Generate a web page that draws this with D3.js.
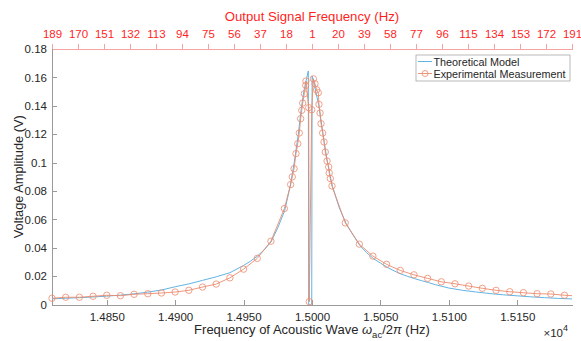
<!DOCTYPE html>
<html>
<head>
<meta charset="utf-8">
<script src="https://cdn.jsdelivr.net/npm/d3@7"></script>
<style>
  html, body { margin: 0; padding: 0; background: #fff; }
  svg { display: block; font-family: "Liberation Sans", Arial, sans-serif; }
  .axis path, .axis line { shape-rendering: crispEdges; }
</style>
</head>
<body>
<div id="chart"></div>
<script>
// theoretical model (blue)
const theoFreq = [14810, 14820, 14830, 14840, 14850, 14860, 14870, 14880, 14890, 14900,
  14910, 14920, 14930, 14940, 14950, 14955, 14960, 14965, 14970, 14975,
  14980, 14984, 14987, 14990, 14992, 14994, 14996, 14997.3, 14997.6, 14999.8,
  15000.1, 15001, 15002, 15003, 15005, 15007, 15009, 15011, 15013, 15015,
  15020, 15025, 15030, 15035, 15040, 15045, 15050, 15055, 15060, 15065,
  15070, 15075, 15080, 15085, 15090, 15095, 15100, 15110, 15120, 15130,
  15140, 15150, 15160, 15170, 15180, 15190];
const theoVolt = [0.0040, 0.0044, 0.0048, 0.0053, 0.0059, 0.0066, 0.0075, 0.0087, 0.0102, 0.0125,
  0.0145, 0.0170, 0.0195, 0.0224, 0.0275, 0.0305, 0.0340, 0.0385, 0.0440, 0.0540,
  0.0660, 0.0830, 0.1000, 0.1200, 0.1370, 0.1500, 0.1590, 0.1645, 0.0, 0.0,
  0.1610, 0.1580, 0.1540, 0.1490, 0.1400, 0.1270, 0.1140, 0.1020, 0.0920, 0.0830,
  0.0680, 0.0570, 0.0490, 0.0415, 0.0365, 0.0322, 0.0292, 0.0262, 0.0237, 0.0215,
  0.0198, 0.0182, 0.0168, 0.0155, 0.0140, 0.0128, 0.0116, 0.0100, 0.0088, 0.0077,
  0.0068, 0.0061, 0.0054, 0.0048, 0.0043, 0.0039];

// experimental measurement (orange circles)
const expFreq = [14810, 14820, 14830, 14840, 14850, 14860, 14870, 14880, 14890, 14900,
  14910, 14920, 14930, 14940, 14950, 14960, 14970, 14979.8, 14984.4, 14985.6,
  14986.9, 14988.3, 14989.6, 14990.7, 14991.7, 14992.5, 14993.2, 14994.4, 14995.4, 14995.6,
  14997.6, 14998.0, 14999.8, 15001.0, 15002.2, 15003.4, 15004.6, 15005.1, 15005.9, 15006.6,
  15007.8, 15008.8, 15009.7, 15011.0, 15012.2, 15012.6, 15013.4, 15014.6, 15024.3, 15034.6,
  15044.5, 15054.5, 15064.5, 15074.5, 15084.5, 15094.5, 15104.5, 15114.5, 15124.5, 15134.5,
  15144.5, 15154.5, 15164.5, 15174.5, 15184.5, 15194.5];
const expVolt = [0.0044, 0.0051, 0.0051, 0.0058, 0.0065, 0.0062, 0.0072, 0.0076, 0.0081, 0.0088,
  0.0100, 0.0123, 0.0144, 0.0188, 0.0249, 0.0325, 0.0446, 0.0676, 0.0845, 0.0899,
  0.0957, 0.1063, 0.1133, 0.1208, 0.1309, 0.1368, 0.1419, 0.1485, 0.1543, 0.1574,
  0.1387, 0.0020, 0.1372, 0.1590, 0.1555, 0.1513, 0.1492, 0.1410, 0.1349, 0.1274,
  0.1208, 0.1145, 0.1074, 0.1011, 0.0969, 0.0927, 0.0887, 0.0835, 0.0575, 0.0425,
  0.0341, 0.0283, 0.0240, 0.0209, 0.0184, 0.0160, 0.0146, 0.0130, 0.0114, 0.0100,
  0.0090, 0.0083, 0.0076, 0.0074, 0.0065, 0.0060];

// axes
const bottomTicks = [14850, 14900, 14950, 15000, 15050, 15100, 15150];
const leftTicks = [0, 0.02, 0.04, 0.06, 0.08, 0.1, 0.12, 0.14, 0.16, 0.18];
const topTickFreqs = [14810, 14829, 14848, 14867, 14886, 14905, 14924, 14943, 14962, 14981, 15000,
  15019, 15038, 15057, 15076, 15095, 15114, 15133, 15152, 15171, 15190];
const topTickLabels = ['189', '170', '151', '132', '113', '94', '75', '56', '37', '18', '1',
  '20', '39', '58', '77', '96', '115', '134', '153', '172', '191'];

const theoData = theoFreq.map((f, i) => ({ f: f, v: theoVolt[i] }));
const expData = expFreq.map((f, i) => ({ f: f, v: expVolt[i] }));

const W = 581, H = 341;
const margin = { top: 49, right: 9, bottom: 36.5, left: 52 };
const width = W - margin.left - margin.right;
const height = H - margin.top - margin.bottom;

const blue = '#62b4e2';
const orange = '#ec8a6c';
const red = '#ff1f1f';

const svg = d3.select('#chart').append('svg')
  .attr('width', W)
  .attr('height', H);

const g = svg.append('g')
  .attr('transform', `translate(${margin.left},${margin.top})`);

const x = d3.scaleLinear().domain([14810, 15190]).range([0, width]);
const y = d3.scaleLinear().domain([0, 0.18]).range([height, 0]);

g.append('clipPath').attr('id', 'clip')
  .append('rect').attr('width', width).attr('height', height);

// bottom axis
const xAxis = g.append('g')
  .attr('class', 'axis axis--x')
  .attr('transform', `translate(0,${height})`)
  .call(d3.axisBottom(x).tickValues(bottomTicks).tickSizeInner(-5).tickSizeOuter(0)
    .tickPadding(8).tickFormat(d => (d / 1e4).toFixed(4)));
xAxis.select('.domain').attr('stroke', '#9a9a9a');
xAxis.selectAll('line').attr('stroke', '#9a9a9a');
xAxis.selectAll('text').attr('fill', '#262626').style('font-size', '11.5px');

// left axis
const yAxis = g.append('g')
  .attr('class', 'axis axis--y')
  .call(d3.axisLeft(y).tickValues(leftTicks).tickSizeInner(-5).tickSizeOuter(0)
    .tickPadding(5).tickFormat(d => String(+d.toFixed(2))));
yAxis.select('.domain').attr('stroke', '#9a9a9a');
yAxis.selectAll('line').attr('stroke', '#9a9a9a');
yAxis.selectAll('text').attr('fill', '#262626').style('font-size', '11.5px');

// top axis (output signal frequency)
const topAxis = g.append('g')
  .attr('class', 'axis axis--top')
  .call(d3.axisTop(x).tickValues(topTickFreqs).tickSizeInner(5).tickSizeOuter(0)
    .tickPadding(6).tickFormat((d, i) => topTickLabels[i]));
topAxis.select('.domain').attr('stroke', '#f5a3a3');
topAxis.selectAll('line').attr('stroke', '#f5a3a3');
topAxis.selectAll('text').attr('fill', red).style('font-size', '11.5px');

// lines
const line = d3.line()
  .x(d => x(d.f))
  .y(d => y(d.v));

const plot = g.append('g').attr('clip-path', 'url(#clip)');

plot.append('path')
  .datum(theoData)
  .attr('class', 'line theo')
  .attr('fill', 'none')
  .attr('stroke', blue)
  .attr('stroke-width', 1)
  .attr('d', line);

plot.append('path')
  .datum(expData)
  .attr('class', 'line exp')
  .attr('fill', 'none')
  .attr('stroke', orange)
  .attr('stroke-width', 0.9)
  .attr('d', line);

g.append('g').selectAll('circle')
  .data(expData.filter(d => d.f >= 14810 && d.f <= 15190))
  .join('circle')
  .attr('cx', d => x(d.f))
  .attr('cy', d => y(d.v))
  .attr('r', 3.2)
  .attr('fill', 'none')
  .attr('stroke', orange)
  .attr('stroke-width', 0.8);

// titles
svg.append('text')
  .attr('x', margin.left + width / 2)
  .attr('y', 21)
  .attr('text-anchor', 'middle')
  .attr('fill', red)
  .style('font-size', '13.2px')
  .text('Output Signal Frequency (Hz)');

svg.append('text')
  .attr('transform', `translate(23,${margin.top + height / 2}) rotate(-90)`)
  .attr('text-anchor', 'middle')
  .attr('fill', '#262626')
  .style('font-size', '12.8px')
  .text('Voltage Amplitude (V)');

const xl = svg.append('text')
  .attr('x', margin.left + width / 2)
  .attr('y', 334)
  .attr('text-anchor', 'middle')
  .attr('fill', '#262626')
  .style('font-size', '13px');
xl.append('tspan').text('Frequency of Acoustic Wave ');
xl.append('tspan').style('font-style', 'italic').text('ω');
xl.append('tspan').attr('dy', 4).style('font-size', '9.5px').text('ac');
xl.append('tspan').attr('dy', -4).text('/2');
xl.append('tspan').style('font-style', 'italic').text('π');
xl.append('tspan').text(' (Hz)');

const ex = svg.append('text')
  .attr('x', 568)
  .attr('y', 337)
  .attr('text-anchor', 'end')
  .attr('fill', '#262626')
  .style('font-size', '11.5px');
ex.append('tspan').text('×10');
ex.append('tspan').attr('dy', -6).style('font-size', '9px').text('4');

// legend
const lg = svg.append('g').attr('transform', 'translate(416,55)');
lg.append('rect')
  .attr('width', 154).attr('height', 26)
  .attr('fill', '#fff')
  .attr('stroke', '#a8a8a8')
  .attr('stroke-width', 0.8);
lg.append('line')
  .attr('x1', 2).attr('x2', 16).attr('y1', 6.5).attr('y2', 6.5)
  .attr('stroke', blue).attr('stroke-width', 1);
lg.append('line')
  .attr('x1', 2).attr('x2', 16).attr('y1', 18.5).attr('y2', 18.5)
  .attr('stroke', orange).attr('stroke-width', 0.9);
lg.append('circle')
  .attr('cx', 9).attr('cy', 18.5).attr('r', 3)
  .attr('fill', 'none').attr('stroke', orange).attr('stroke-width', 0.8);
lg.append('text')
  .attr('x', 17.5).attr('y', 10.5)
  .attr('fill', '#262626')
  .style('font-size', '10.8px')
  .text('Theoretical Model');
lg.append('text')
  .attr('x', 17.5).attr('y', 22.5)
  .attr('fill', '#262626')
  .style('font-size', '10.8px')
  .text('Experimental Measurement');
</script>
</body>
</html>
